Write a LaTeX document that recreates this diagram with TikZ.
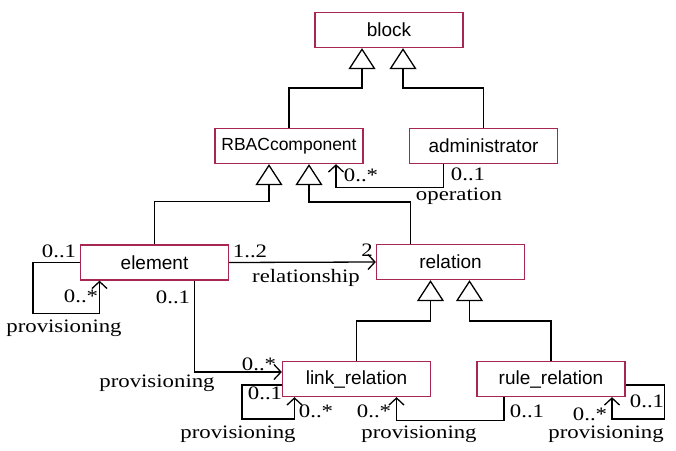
\documentclass[tikz,border=0pt]{standalone}
\usepackage{fontspec}
\setmainfont{Liberation Serif}
\newfontfamily\boxfont{Liberation Sans}
\newfontfamily\multfont[FakeStretch=1.2]{Liberation Serif}
\usetikzlibrary{arrows.meta}
\definecolor{umlred}{RGB}{168, 38, 82}

\begin{document}
\begin{tikzpicture}[x=1pt, y=-1pt,
        umlclass/.style={draw=umlred, line width=1.3pt, fill=white, minimum width=148pt,
                         minimum height=35pt, inner sep=0pt, font=\boxfont\fontsize{19}{22}\selectfont},
        inherit/.style={line width=1.3pt, -{Triangle[open, length=21pt, width=27pt, line width=1.3pt]}},
        assoc/.style={line width=1.3pt, -{Straight Barb[length=7pt, width=15pt, line width=1.3pt]}},
        mult/.style={font=\multfont\fontsize{19}{21}\selectfont, inner sep=0pt}]
            \useasboundingbox (0,0) rectangle (676,450);
            % Classes
            \node[umlclass]                  (block)    at (389.0,  30.0) {block};
            \node[umlclass, font=\boxfont\fontsize{17.5}{20}\selectfont]
                                             (rbac)     at (289.0, 146.0) {RBACcomponent};
            \node[umlclass]                  (admin)    at (483.5, 146.0) {administrator};
            \node[umlclass]                  (element)  at (154.5, 262.5) {element};
            \node[umlclass]                  (relation) at (450.5, 262.0) {relation};
            \node[umlclass]                  (link)     at (356.5, 379.0) {link\_relation};
            \node[umlclass]                  (rule)     at (551.0, 379.0) {rule\_relation};
            % Generalisation
            \draw[inherit] (rbac.north)                 -- ++(0,-40) -| ([xshift=-27pt]block.south);
            \draw[inherit] (admin.north)                -- ++(0,-40) -| ([xshift= 14pt]block.south);
            \draw[inherit] (element.north)              -- ++(0,-43) -| ([xshift=-20pt]rbac.south);
            \draw[inherit] ([xshift=-40pt]relation.north) -- ++(0,-42) -| ([xshift= 20pt]rbac.south);
            \draw[inherit] (link.north)                 -- ++(0,-40) -| ([xshift=-20pt]relation.south);
            \draw[inherit] (rule.north)                 -- ++(0,-40) -| ([xshift= 19pt]relation.south);
            % Associations
            \draw[assoc] ([xshift=-40pt]admin.south)    -- ++(0,23)  -| ([xshift=47pt]rbac.south);
            \draw[assoc] (element.east) -- (relation.west);
            \draw[assoc] (element.west)                 -- ++(-47,0) -- ++(0,51) -| ([xshift=-55pt]element.south);
            \draw[assoc] ([xshift=40pt]element.south)   |- ([yshift=7pt]link.west);
            \draw[assoc] ([yshift=-6pt]link.west)       -- ++(-40,0) -- ++(0,34) -| ([xshift=-62pt]link.south);
            \draw[assoc] ([xshift=-47pt]rule.south)     -- ++(0,23)  -| ([xshift=40pt]link.south);
            \draw[assoc] ([yshift=-6pt]rule.east)       -- ++(39,0)  -- ++(0,34) -| ([xshift=61pt]rule.south);
            % Multiplicities and roles
            \node[mult] (m1)  at (361, 175) {0..*};
            \node[mult] (m2)  at (468, 174) {0..1};
            \node[mult] (r1)  at (459, 196) {operation};
            \node[mult] (m3)  at ( 59, 251) {0..1};
            \node[mult] (m4)  at (250, 251) {1..2};
            \node[mult] (m5)  at (367, 250) {2};
            \node[mult] (r2)  at (306, 278) {relationship};
            \node[mult] (m6)  at ( 81, 296) {0..*};
            \node[mult] (m7)  at (173, 297) {0..1};
            \node[mult] (r3)  at ( 64, 328) {provisioning};
            \node[mult] (m8)  at (259, 364) {0..*};
            \node[mult] (r4)  at (157, 383) {provisioning};
            \node[mult] (m9)  at (265, 393) {0..1};
            \node[mult] (m10) at (316, 411) {0..*};
            \node[mult] (r5)  at (238, 434) {provisioning};
            \node[mult] (m11) at (374, 411) {0..*};
            \node[mult] (r6)  at (419, 434) {provisioning};
            \node[mult] (m12) at (527, 411) {0..1};
            \node[mult] (m13) at (590, 414) {0..*};
            \node[mult] (m14) at (647, 401) {0..1};
            \node[mult] (r7)  at (606, 434) {provisioning};
        \end{tikzpicture}
\end{document}
